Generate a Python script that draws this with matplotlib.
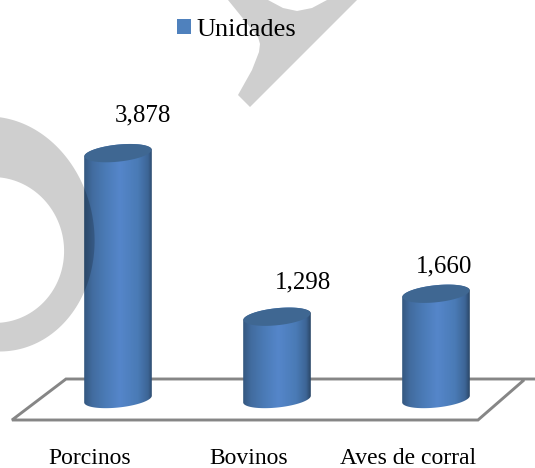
import numpy as np
import matplotlib
matplotlib.use("Agg")
import matplotlib.pyplot as plt
from matplotlib.colors import LinearSegmentedColormap
from matplotlib.patches import PathPatch, Patch, Polygon
from matplotlib.path import Path
from matplotlib.transforms import Affine2D, ScaledTranslation

categories = ["Porcinos", "Bovinos", "Aves de corral"]
values = [3878, 1298, 1660]
value_labels = ["3,878", "1,298", "1,660"]
series_name = "Unidades"
label_offsets_px = [(25, 38), (26, 34.5), (8, 27.5)]

W, H = 535, 468
BAR_X0, STEP = 118, 159
PX_PER_UNIT = 0.0634
BASE_PX = 399
AX_BOTTOM = 420
RX, RY, TILT = 34, 8.5, np.deg2rad(-6)

plt.rcParams["font.family"] = ["Liberation Serif", "DejaVu Serif"]
fig = plt.figure(figsize=(W / 100, H / 100), dpi=100)
ax = fig.add_axes([0, (H - AX_BOTTOM) / H, 1, AX_BOTTOM / H])
ax.set_xlim(-BAR_X0 / STEP, (W - BAR_X0) / STEP)
ax.set_ylim(-(AX_BOTTOM - BASE_PX) / PX_PER_UNIT, BASE_PX / PX_PER_UNIT)
for s in ax.spines.values():
    s.set_visible(False)
ax.set_yticks([])
ax.set_xticks(range(len(categories)), categories, fontsize=17, color="black")
ax.tick_params(axis="x", length=0, pad=20)
shift = ScaledTranslation(-28 / 100, 0, fig.dpi_scale_trans)
for lab in ax.get_xticklabels():
    lab.set_transform(lab.get_transform() + shift)

px = Affine2D().scale(1, -1).translate(0, H)  # reference pixel coords -> display


def ellipse(cx, cy, a, b, rot, t0=0, t1=2 * np.pi, n=200):
    t = np.linspace(t0, t1, n)
    x, y = a * np.cos(t), b * np.sin(t)
    return np.column_stack([cx + x * np.cos(rot) - y * np.sin(rot),
                            cy + x * np.sin(rot) + y * np.cos(rot)])


# Watermark
outer = ellipse(-6, 234, 100, 118, np.deg2rad(-10))
inner = ellipse(-6, 250, 70, 73, np.deg2rad(-10))
ring = Path.make_compound_path(Path(outer, closed=False), Path(inner[::-1], closed=False))
ax.add_patch(PathPatch(ring, fc="#CFCFCF", ec="none", transform=px, zorder=1, clip_on=False))
wm = [(228, 0), (258, 37), (260, 44), (259, 52), (252, 70), (238, 95), (250, 107), (357, 0),
      (327, 0), (312, 8), (297, 11), (283, 8), (268, 0)]
ax.add_patch(Polygon(wm, closed=True, fc="#CFCFCF", ec="none", transform=px, zorder=1, clip_on=False))

# Floor
floor = [(535, 379), (66, 379), (12, 420), (478, 420), (524, 380)]
ax.add_patch(Polygon(floor, closed=False, fill=False, ec="#868686", lw=2.1,
                     joinstyle="miter", transform=px, zorder=2, clip_on=False))

cmap = LinearSegmentedColormap.from_list("cyl", [
    (0, "#34577F"), (0.12, "#426C9F"), (0.3, "#4A7AB5"), (0.52, "#5586CA"),
    (0.78, "#4A7BB6"), (0.93, "#3D6596"), (1, "#2A4666")])

bars = ax.bar(range(len(values)), values, width=2 * RX / STEP, color="none", zorder=3)
grad = np.linspace(0, 1, 256).reshape(1, -1)
first_body = None
for i, (bar, v) in enumerate(zip(bars, values)):
    cx_disp, top_disp = ax.transData.transform((bar.get_x() + bar.get_width() / 2, v))
    cx = cx_disp
    top = H - top_disp
    lower = ellipse(cx, BASE_PX, RX, RY, TILT, 0, np.pi)
    upper = ellipse(cx, top, RX, RY, TILT, np.pi, 2 * np.pi)
    body = Path(np.vstack([lower, upper, lower[:1]]), closed=True)
    im = ax.imshow(grad, cmap=cmap, aspect="auto", zorder=4,
                   extent=(bar.get_x(), bar.get_x() + bar.get_width(), -30 / PX_PER_UNIT, v + 30 / PX_PER_UNIT))
    im.set_clip_path(PathPatch(body, transform=px))
    ax.add_patch(Polygon(ellipse(cx, top, RX - 0.5, RY, TILT), closed=True, fc="#3F6792", ec="none",
                         transform=px, zorder=5, clip_on=False))
    if i == 0:
        first_body = body
    ox, oy = label_offsets_px[i]
    ax.annotate(value_labels[i], (bar.get_x() + bar.get_width() / 2, v), xytext=(ox * 0.72, oy * 0.72),
                textcoords="offset points", ha="center", va="center", fontsize=18, color="black", zorder=6)
ax.set_xlim(-BAR_X0 / STEP, (W - BAR_X0) / STEP)
ax.set_ylim(-(AX_BOTTOM - BASE_PX) / PX_PER_UNIT, BASE_PX / PX_PER_UNIT)

over = PathPatch(ring, fc="black", alpha=0.19, ec="none", transform=px, zorder=5.5, clip_on=True)
ax.add_patch(over)
over.set_clip_path(PathPatch(first_body, transform=px))

leg = fig.legend(handles=[Patch(fc="#4F81BD", label=series_name)], loc="center left",
                 bbox_to_anchor=(177 / W, 1 - 30 / H), frameon=False, fontsize=19,
                 handlelength=0.53, handleheight=0.53, handletextpad=0.2, borderpad=0, borderaxespad=0)

fig.savefig("out.png", dpi=100)
